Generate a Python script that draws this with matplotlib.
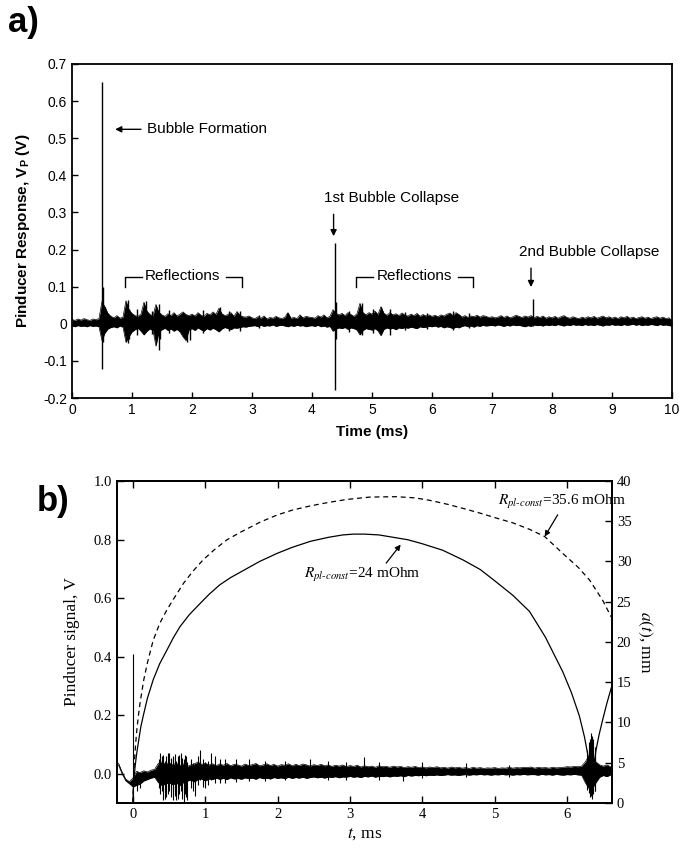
import matplotlib
matplotlib.use('Agg')
import matplotlib.pyplot as plt
import numpy as np

plt.rcParams['font.family'] = ['Liberation Sans', 'DejaVu Sans']
plt.rcParams['mathtext.fontset'] = 'custom'
plt.rcParams['mathtext.rm'] = 'Liberation Sans'
plt.rcParams['mathtext.it'] = 'Liberation Sans:italic'
plt.rcParams['mathtext.bf'] = 'Liberation Sans:bold'

# ---------------- panel a data (pinducer response, V) ----------------
# noise band edges sampled every 0.05 ms from 0 to 10 ms
a_step = 0.05
a_hi = [0.012, 0.009, 0.013, 0.010, 0.014, 0.011, 0.009, 0.013, 0.011, 0.014,
        0.060, 0.045, 0.028, 0.020, 0.016, 0.022, 0.015, 0.018, 0.062, 0.038,
        0.028, 0.022, 0.020, 0.026, 0.058, 0.034, 0.025, 0.022, 0.052, 0.030,
        0.024, 0.020, 0.027, 0.022, 0.030, 0.021, 0.026, 0.032, 0.025, 0.022,
        0.026, 0.021, 0.030, 0.023, 0.020, 0.028, 0.024, 0.032, 0.025, 0.042,
        0.027, 0.022, 0.025, 0.030, 0.020, 0.033, 0.023, 0.019, 0.018, 0.021,
        0.016, 0.014, 0.019, 0.015, 0.021, 0.013, 0.017, 0.015, 0.020, 0.016,
        0.014, 0.018, 0.030, 0.015, 0.017, 0.014, 0.024, 0.016, 0.020, 0.018,
        0.017, 0.015, 0.022, 0.018, 0.024, 0.016, 0.020, 0.038, 0.028, 0.024,
        0.028, 0.022, 0.030, 0.025, 0.020, 0.027, 0.055, 0.030, 0.024, 0.030,
        0.026, 0.034, 0.025, 0.046, 0.028, 0.023, 0.030, 0.024, 0.027, 0.022,
        0.029, 0.023, 0.021, 0.026, 0.022, 0.028, 0.020, 0.025, 0.021, 0.024,
        0.020, 0.023, 0.019, 0.024, 0.021, 0.026, 0.029, 0.022, 0.030, 0.025,
        0.018, 0.022, 0.017, 0.021, 0.019, 0.023, 0.018, 0.022, 0.020, 0.017,
        0.019, 0.016, 0.018, 0.022, 0.017, 0.021, 0.016, 0.019, 0.023, 0.020,
        0.017, 0.021, 0.018, 0.022, 0.016, 0.020, 0.017, 0.021, 0.015, 0.019,
        0.016, 0.020, 0.015, 0.019, 0.022, 0.017, 0.015, 0.019, 0.016, 0.014,
        0.018, 0.015, 0.019, 0.016, 0.020, 0.015, 0.018, 0.021, 0.016, 0.019,
        0.015, 0.018, 0.014, 0.019, 0.016, 0.020, 0.015, 0.018, 0.014, 0.017,
        0.019, 0.015, 0.018, 0.014, 0.017, 0.019, 0.015, 0.018, 0.014, 0.016,
        0.008]
a_lo = [-0.006, -0.008, -0.005, -0.007, -0.006, -0.008, -0.005, -0.007, -0.006, -0.008,
        -0.045, -0.025, -0.014, -0.010, -0.008, -0.011, -0.006, -0.009, -0.050, -0.035,
        -0.022, -0.016, -0.012, -0.020, -0.030, -0.020, -0.014, -0.018, -0.060, -0.022,
        -0.016, -0.012, -0.018, -0.014, -0.020, -0.015, -0.022, -0.035, -0.045, -0.017,
        -0.013, -0.018, -0.011, -0.016, -0.020, -0.013, -0.017, -0.012, -0.016, -0.022,
        -0.014, -0.010, -0.013, -0.016, -0.011, -0.012, -0.010, -0.008, -0.009, -0.007,
        -0.006, -0.005, -0.008, -0.004, -0.007, -0.005, -0.006, -0.003, -0.007, -0.005,
        -0.004, -0.006, -0.008, -0.005, -0.007, -0.004, -0.006, -0.005, -0.008, -0.006,
        -0.005, -0.007, -0.004, -0.008, -0.006, -0.009, -0.007, -0.020, -0.014, -0.011,
        -0.013, -0.010, -0.015, -0.011, -0.013, -0.017, -0.030, -0.018, -0.013, -0.015,
        -0.017, -0.013, -0.019, -0.032, -0.015, -0.011, -0.014, -0.012, -0.016, -0.011,
        -0.013, -0.010, -0.012, -0.009, -0.011, -0.013, -0.008, -0.010, -0.009, -0.007,
        -0.008, -0.006, -0.009, -0.007, -0.011, -0.008, -0.010, -0.013, -0.009, -0.011,
        -0.007, -0.005, -0.008, -0.006, -0.009, -0.005, -0.007, -0.004, -0.006, -0.005,
        -0.004, -0.006, -0.003, -0.005, -0.007, -0.004, -0.006, -0.003, -0.005, -0.004,
        -0.006, -0.008, -0.005, -0.007, -0.003, -0.005, -0.004, -0.006, -0.003, -0.005,
        -0.003, -0.005, -0.002, -0.004, -0.006, -0.003, -0.005, -0.002, -0.004, -0.003,
        -0.005, -0.002, -0.004, -0.003, -0.005, -0.002, -0.004, -0.006, -0.003, -0.004,
        -0.002, -0.004, -0.003, -0.005, -0.002, -0.004, -0.003, -0.001, -0.004, -0.002,
        -0.005, -0.003, -0.004, -0.002, -0.003, -0.005, -0.002, -0.004, -0.003, -0.005,
        -0.006]
# isolated spikes: time (ms), top, bottom
a_spike_t = [0.50, 0.52, 0.55, 0.93, 0.95, 1.23, 1.45, 1.47, 1.91, 1.96,
             2.47, 2.80, 3.58, 4.38, 4.40, 4.83, 5.15, 5.30, 7.68,
             1.08, 1.33, 1.62, 2.18, 2.62, 3.12, 4.62, 5.02, 5.55, 5.92, 6.35, 6.62]
a_spike_hi = [0.652, 0.100, 0.046, 0.064, 0.040, 0.061, 0.053, 0.030, 0.020, 0.020,
              0.045, 0.035, 0.030, 0.217, 0.060, 0.056, 0.046, 0.040, 0.066,
              0.040, 0.035, 0.038, 0.036, 0.034, 0.025, 0.035, 0.040, 0.032, 0.030, 0.034, 0.030]
a_spike_lo = [-0.123, -0.050, -0.020, -0.053, -0.040, -0.020, -0.071, -0.040, -0.050, -0.045,
              -0.010, -0.020, -0.005, -0.178, -0.040, -0.030, -0.020, -0.030, -0.005,
              -0.030, -0.028, -0.025, -0.024, -0.020, -0.012, -0.022, -0.025, -0.018, -0.015, -0.016, -0.012]

# ---------------- panel b data ----------------
b_start = -0.20
b_step = 0.05
b_hi = [0.036, 0.006, -0.018, -0.027,
        -0.015, 0.008, 0.004, 0.010, 0.006, 0.012, 0.015,
        0.035, 0.040, 0.032, 0.038, 0.030, 0.036, 0.028, 0.034, 0.025,
        0.030, 0.034, 0.040, 0.032, 0.036,
        0.030, 0.034, 0.028, 0.033, 0.029, 0.035, 0.027, 0.032, 0.030, 0.026,
        0.033, 0.028, 0.031, 0.035, 0.027, 0.030, 0.034, 0.028, 0.032, 0.026,
        0.031, 0.029, 0.034, 0.027, 0.032, 0.028, 0.033, 0.030, 0.026, 0.031,
        0.028, 0.032, 0.027, 0.030, 0.025, 0.029, 0.026, 0.030, 0.024, 0.028,
        0.025, 0.029, 0.023, 0.027, 0.024, 0.026, 0.022, 0.027, 0.024, 0.025,
        0.022, 0.026, 0.023, 0.025, 0.021, 0.024, 0.022, 0.025, 0.021, 0.023,
        0.020, 0.023, 0.021, 0.024, 0.020, 0.022, 0.019, 0.023, 0.020, 0.022,
        0.019, 0.021, 0.018, 0.022, 0.019, 0.021, 0.018, 0.020, 0.019, 0.021,
        0.018, 0.020, 0.019, 0.022, 0.019, 0.021, 0.020, 0.022, 0.021, 0.023,
        0.019, 0.022, 0.020, 0.021, 0.019, 0.022, 0.020, 0.021,
        0.022, 0.024, 0.023, 0.025, 0.024, 0.026,
        0.040, 0.060, 0.060, 0.040, 0.030,
        0.026, 0.030, 0.024]
b_lo = [0.030, 0.000, -0.024, -0.034,
        -0.045, -0.040, -0.035, -0.025, -0.020, -0.015, -0.012,
        -0.030, -0.040, -0.035, -0.030, -0.038, -0.032, -0.040, -0.030, -0.025,
        -0.022, -0.028, -0.020, -0.018, -0.025,
        -0.018, -0.020, -0.015, -0.019, -0.016, -0.020, -0.014, -0.018, -0.016, -0.019,
        -0.014, -0.017, -0.015, -0.019, -0.013, -0.017, -0.015, -0.018, -0.013, -0.016,
        -0.014, -0.017, -0.012, -0.016, -0.013, -0.015, -0.012, -0.016, -0.013, -0.011,
        -0.014, -0.012, -0.015, -0.011, -0.013, -0.010, -0.014, -0.011, -0.012, -0.009,
        -0.012, -0.010, -0.013, -0.009, -0.011, -0.008, -0.012, -0.009, -0.010, -0.008,
        -0.011, -0.008, -0.009, -0.007, -0.010, -0.006, -0.008, -0.006, -0.007, -0.005,
        -0.007, -0.005, -0.006, -0.004, -0.006, -0.005, -0.003, -0.005, -0.004, -0.006,
        -0.004, -0.003, -0.005, -0.003, -0.004, -0.002, -0.004, -0.003, -0.005, -0.003,
        -0.004, -0.002, -0.004, -0.003, -0.005, -0.003, -0.004, -0.002, -0.004, -0.003,
        -0.003, -0.005, -0.002, -0.004, -0.003, -0.005, -0.002, -0.004,
        -0.005, -0.003, -0.004, -0.002, -0.004, -0.005,
        -0.030, -0.050, -0.050, -0.030, -0.012,
        -0.006, -0.010, -0.004]
b_spike_t = [0.00, 0.06, 0.10, 0.38, 0.42, 0.46, 0.50, 0.55, 0.58, 0.62, 0.66, 0.70, 0.73,
             0.86, 0.93, 1.00, 1.08, 1.20, 2.45, 3.20, 3.73, 6.30, 6.33, 6.36, 6.39,
             0.36, 0.40, 0.44, 0.48, 0.52, 0.56, 0.60, 0.64, 0.68, 0.72, 0.75, 0.80, 0.83,
             0.90, 0.97, 1.04, 1.13, 1.27, 1.42, 1.60, 1.83, 2.10, 2.70, 2.95, 3.40, 4.00,
             4.60, 5.20, 6.28, 6.31, 6.35, 6.38]
b_spike_hi = [0.41, 0.00, 0.00, 0.070, 0.065, 0.060, 0.072, 0.050, 0.068, 0.060, 0.070, 0.050, 0.060,
              0.030, 0.080, 0.040, 0.070, 0.050, 0.050, 0.056, 0.000, 0.110, 0.140, 0.120, 0.070,
              0.050, 0.060, 0.045, 0.070, 0.055, 0.060, 0.045, 0.065, 0.055, 0.065, 0.040, 0.050, 0.035,
              0.060, 0.050, 0.045, 0.060, 0.050, 0.050, 0.050, 0.045, 0.045, 0.045, 0.040, 0.040, 0.040,
              0.035, 0.030, 0.080, 0.120, 0.130, 0.090]
b_spike_lo = [-0.09, -0.060, -0.050, -0.070, -0.090, -0.080, -0.060, -0.090, -0.075, -0.085, -0.060, -0.095, -0.080,
              -0.075, -0.020, -0.050, -0.020, -0.030, 0.000, 0.000, -0.025, -0.065, -0.075, -0.070, -0.060,
              -0.050, -0.060, -0.085, -0.070, -0.080, -0.065, -0.090, -0.070, -0.085, -0.070, -0.090, -0.050, -0.060,
              -0.040, -0.045, -0.040, -0.030, -0.030, -0.028, -0.025, -0.025, -0.022, -0.020, -0.020, -0.020, -0.015,
              -0.012, -0.010, -0.055, -0.080, -0.085, -0.060]

# bubble radius a(t), mm, for the two plasma resistances
r24_t = [0.0, 0.005, 0.01, 0.02, 0.03, 0.05, 0.08, 0.11, 0.15, 0.2, 0.28, 0.37, 0.47, 0.56,
         0.65, 0.78, 0.93, 1.05, 1.2, 1.35, 1.53, 1.75, 1.99, 2.2, 2.45, 2.7, 2.9, 3.05,
         3.2, 3.4, 3.6, 3.8, 4.0, 4.28, 4.56, 4.8, 5.0, 5.25, 5.48, 5.7, 5.94, 6.06, 6.17,
         6.24, 6.29, 6.32, 6.34, 6.36, 6.38, 6.40, 6.44, 6.49, 6.55, 6.61]
r24_a = [0.0, 1.5, 2.5, 3.5, 4.5, 6.0, 7.8, 9.5, 11.1, 13.0, 15.3, 17.3, 19.0, 20.55,
         21.9, 23.4, 24.8, 25.9, 27.1, 28.0, 28.9, 30.0, 31.0, 31.75, 32.5, 33.0, 33.3, 33.4,
         33.4, 33.3, 33.0, 32.7, 32.2, 31.4, 30.2, 29.0, 27.6, 25.8, 23.8, 20.6, 16.3, 13.7, 10.8,
         8.2, 5.8, 3.6, 1.0, 3.3, 5.3, 6.6, 8.4, 10.3, 12.4, 14.3]
r356_t = [0.0, 0.005, 0.01, 0.02, 0.035, 0.05, 0.075, 0.1, 0.15, 0.2, 0.28, 0.37, 0.47, 0.58,
          0.7, 0.83, 0.97, 1.13, 1.3, 1.5, 1.76, 2.0, 2.21, 2.45, 2.68, 2.95, 3.27, 3.64,
          3.9, 4.1, 4.35, 4.56, 4.8, 5.02, 5.25, 5.48, 5.69, 5.94, 6.15, 6.31, 6.49, 6.61]
r356_a = [0.0, 1.8, 3.0, 5.0, 7.0, 8.7, 10.8, 12.5, 15.3, 17.4, 20.2, 22.3, 24.0, 25.6,
          27.3, 28.8, 30.2, 31.5, 32.7, 33.7, 34.9, 35.8, 36.4, 36.9, 37.3, 37.7, 38.0, 38.05,
          37.9, 37.6, 37.1, 36.6, 36.0, 35.4, 34.8, 34.0, 33.1, 31.0, 29.3, 27.7, 25.2, 23.1]


def band(ax, t0, dt, hi, lo, lw):
    t = t0 + dt * np.arange(len(hi))
    ax.fill_between(t, lo, hi, color='black', lw=0)
    ax.plot(t, hi, color='black', lw=lw)
    ax.plot(t, lo, color='black', lw=lw)


fig = plt.figure(figsize=(6.79, 8.51), dpi=100)

# ================= panel a =================
ax1 = fig.add_axes([0.106, 0.5323, 0.8837, 0.3925])
band(ax1, 0.0, a_step, a_hi, a_lo, 0.5)
ax1.vlines(a_spike_t, a_spike_lo, a_spike_hi, color='black', lw=1.0)
ax1.set_xlim(0, 10)
ax1.set_ylim(-0.2, 0.7)
ax1.set_xticks(range(0, 11))
ax1.set_yticks(np.round(np.arange(-0.2, 0.71, 0.1), 1))
ax1.set_yticklabels(['-0.2', '-0.1', '0', '0.1', '0.2', '0.3', '0.4', '0.5', '0.6', '0.7'])
ax1.tick_params(direction='in', length=4, width=1, labelsize=10, top=False, right=False)
for s in ax1.spines.values():
    s.set_linewidth(1.3)
ax1.set_xlabel('Time (ms)', fontsize=11, fontweight='bold', labelpad=6)
ax1.set_ylabel(r'Pinducer Response, V$_\mathbf{P}$ (V)', fontsize=11, fontweight='bold', labelpad=8)

arrow_kw = dict(arrowstyle='-|>', color='black', lw=1.0, mutation_scale=9, shrinkA=0, shrinkB=0)
ax1.text(1.25, 0.524, 'Bubble Formation', fontsize=11, ha='left', va='center')
ax1.annotate('', xy=(0.72, 0.524), xytext=(1.15, 0.524), arrowprops=arrow_kw)
ax1.text(5.33, 0.34, '1st Bubble Collapse', fontsize=11, ha='center', va='center')
ax1.annotate('', xy=(4.36, 0.236), xytext=(4.36, 0.295), arrowprops=arrow_kw)
ax1.text(8.62, 0.193, '2nd Bubble Collapse', fontsize=11, ha='center', va='center')
ax1.annotate('', xy=(7.65, 0.099), xytext=(7.65, 0.15), arrowprops=arrow_kw)
for left, mid, right in [(0.883, 1.84, 2.83), (4.74, 5.70, 6.69)]:
    ax1.plot([left, left, left + 0.28], [0.10, 0.126, 0.126], color='black', lw=1.0)
    ax1.plot([right - 0.26, right, right], [0.126, 0.126, 0.10], color='black', lw=1.0)
    ax1.text(mid, 0.13, 'Reflections', fontsize=11, ha='center', va='center')

fig.text(0.012, 0.974, 'a)', fontsize=25, fontweight='bold', va='center', ha='left')

# ================= panel b =================
serif = 'Liberation Serif'
ax = fig.add_axes([0.1723, 0.0564, 0.729, 0.3784])
band(ax, b_start, b_step, b_hi, b_lo, 0.5)
ax.vlines(b_spike_t, b_spike_lo, b_spike_hi, color='black', lw=0.8)
ax.set_xlim(-0.22, 6.62)
ax.set_ylim(-0.1, 1.0)
ax.set_xticks(range(0, 7))
ax.set_yticks([0.0, 0.2, 0.4, 0.6, 0.8, 1.0])
ax.set_yticklabels(['0.0', '0.2', '0.4', '0.6', '0.8', '1.0'])
ax.tick_params(direction='in', length=5, width=1, labelsize=10.5, top=True, right=False)
for lab in ax.get_xticklabels() + ax.get_yticklabels():
    lab.set_family(serif)
ax.set_ylabel('Pinducer signal, V', fontsize=12.5, family=serif, labelpad=10)
ax.set_xlabel('$t$, ms', fontsize=12.5, family=serif, math_fontfamily='stix', labelpad=4)

ax2 = ax.twinx()
ax2.plot(r24_t, r24_a, color='black', lw=0.9)
ax2.plot(r356_t, r356_a, color='black', lw=0.9, linestyle=(0, (4, 3)))
ax2.set_ylim(0, 40)
ax2.set_yticks(range(0, 41, 5))
ax2.tick_params(direction='in', length=5, width=1, labelsize=10.5)
for lab in ax2.get_yticklabels():
    lab.set_family(serif)
ax2.set_ylabel('$a(t)$, mm', fontsize=12.5, family=serif, math_fontfamily='stix',
               rotation=270, labelpad=16)
for s in list(ax.spines.values()) + list(ax2.spines.values()):
    s.set_linewidth(1.3)

small_arrow = dict(arrowstyle='-|>', color='black', lw=0.9, mutation_scale=8, shrinkA=0, shrinkB=0)
ax2.text(2.37, 28.3, r'$R_{pl\text{-}const}$=24 mOhm', fontsize=11, family=serif,
         math_fontfamily='stix', ha='left', va='center')
ax2.annotate('', xy=(3.70, 32.1), xytext=(3.50, 29.8), arrowprops=small_arrow)
ax2.text(5.04, 37.4, r'$R_{pl\text{-}const}$=35.6 mOhm', fontsize=11, family=serif,
         math_fontfamily='stix', ha='left', va='center')
ax2.annotate('', xy=(5.69, 33.1), xytext=(5.87, 35.8), arrowprops=small_arrow)

fig.text(0.0545, 0.411, 'b)', fontsize=25, fontweight='bold', va='center', ha='left')

fig.savefig('out.png', dpi=100)
